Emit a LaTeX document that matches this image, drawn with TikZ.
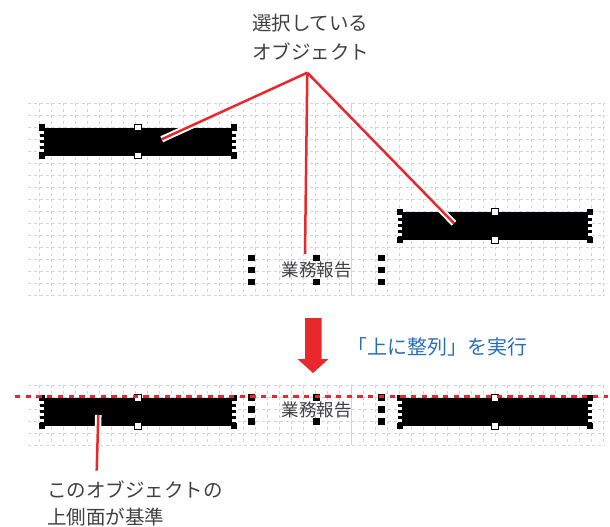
\documentclass[tikz,border=0pt]{standalone}
\usepackage{fontspec}
\newfontfamily\jp{Noto Sans CJK JP}
\definecolor{gridc}{HTML}{CDD2E4}
\definecolor{redc}{HTML}{E8282C}
\definecolor{bluec}{HTML}{2A6EBB}
\definecolor{txtc}{HTML}{404040}
\pgfdeclarelayer{bg}
\pgfsetlayers{bg,main}
\newcommand\barsel[1]{%
  \draw[white, line width=3.5pt] (#1.north west) -- (#1.south west) (#1.north east) -- (#1.south east);
  \draw[black, line width=3.5pt, dash pattern=on 3pt off 3pt] (#1.north west) -- (#1.south west) (#1.north east) -- (#1.south east);
  \foreach \a in {north west,south west,north east,south east} {\fill[black] (#1.\a) ++(-3.2,-3.2) rectangle ++(6.4,6.4);}
  \foreach \a in {north,south} {\filldraw[fill=white,draw=black,line width=0.9pt] (#1.\a) ++(-3.2,-3.2) rectangle ++(6.4,6.4);}
}
\newcommand\tbsel[1]{%
  \foreach \a in {north west,west,south west,north,south,north east,east,south east} {\fill[black] (#1.\a) ++(-3.4,-3.4) rectangle ++(6.8,6.8);}
}
\begin{document}
\begin{tikzpicture}[x=1pt,y=-1pt,
  gridl/.style={draw=gridc, line width=0.8pt, dash pattern=on 3pt off 3pt},
  gridsolid/.style={draw=gridc, line width=1pt},
  barbox/.style={fill=black, draw=none, inner sep=0pt, outer sep=0pt, minimum height=28pt},
  tbox/.style={inner sep=0pt, outer sep=0pt, minimum width=130pt, minimum height=24pt, font=\jp\fontsize{17.5}{20}\selectfont, text=txtc},
  lbl/.style={inner sep=0pt, outer sep=0pt, align=left, text=txtc, font=\jp\fontsize{19.5}{29}\selectfont},
  casing/.style={white, line width=6.5pt},
  leader/.style={redc, line width=2.5pt},
  aligndash/.style={redc, line width=2.3pt, dash pattern=on 5.3pt off 5.4pt}
]
\useasboundingbox (0,0) rectangle (610,527);
% grids
\begin{pgfonlayer}{bg}
\foreach \k in {0,...,16} {\draw[gridl] (28,103.3+12*\k) -- (605,103.3+12*\k);}
\foreach \k in {0,...,47} {\draw[gridl] (39.3+12*\k,103.3) -- (39.3+12*\k,296);}
\draw[gridsolid] (351.3,103.3) -- (351.3,296);
\foreach \k in {0,...,5} {\draw[gridl] (28,385+12*\k) -- (605,385+12*\k);}
\foreach \k in {0,...,47} {\draw[gridl] (39.3+12*\k,385) -- (39.3+12*\k,445);}
\draw[gridsolid] (351.3,385) -- (351.3,445);
\end{pgfonlayer}
% bars
\node[barbox, minimum width=192pt] (b1) at (138,141.5) {};
\node[barbox, minimum width=190pt] (b2) at (495,226) {};
\node[barbox, minimum width=192pt] (b3) at (138,412) {};
\node[barbox, minimum width=190pt] (b4) at (495,412) {};
\barsel{b1}\barsel{b2}\barsel{b3}\barsel{b4}
% text boxes
\node[tbox] (t1) at (316.7,270) {業務報告};
\node[tbox] (t2) at (316.7,409.5) {業務報告};
\begin{pgfonlayer}{bg}
\tbsel{t1}\tbsel{t2}
\end{pgfonlayer}
% alignment line
\coordinate (alnL) at (15,396.5);
\coordinate (alnR) at (608,396.5);
\draw[aligndash] (alnL) -- (alnR);
% labels
\node[lbl, anchor=base west] (top) at (252,59.4) {選択している\\オブジェクト};
\node[lbl, anchor=base west, font=\jp\fontsize{19.5}{26.7}\selectfont] (bot) at (47,524.1) {このオブジェクトの\\上側面が基準};
\node[inner sep=0pt, anchor=base west, font=\jp\fontsize{20}{24}\selectfont, text=bluec] (cmd) at (346.8,354) {「上に整列」を実行};
% leaders
\coordinate (apex) at (307.3,72.7);
\coordinate (e1) at (161.7,139.3);
\coordinate (e2) at (305,254);
\coordinate (e3) at (454,223.3);
\coordinate (p1) at (96.7,470.7);
\coordinate (e4) at (98.3,415);
\draw[casing] (apex) -- (e1) (apex) -- (e2) (apex) -- (e3) (p1) -- (e4);
\draw[leader] (apex) -- (e1) (apex) -- (e2) (apex) -- (e3) (p1) -- (e4);
% arrow
\fill[redc] (305,318) -- (321.5,318) -- (321.5,359) -- (328.5,359) -- (313,373) -- (297.5,359) -- (305,359) -- cycle;
\end{tikzpicture}
\end{document}
